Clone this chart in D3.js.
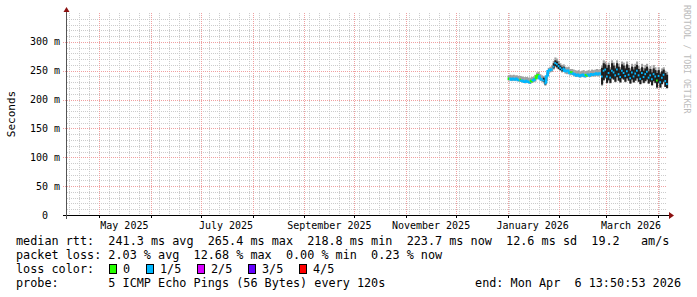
<!DOCTYPE html>
<html>
<head>
<meta charset="utf-8">
<script src="https://cdn.jsdelivr.net/npm/d3@7"></script>
<style>
  html, body { margin: 0; padding: 0; background: #fff; }
  svg text { font-family: "DejaVu Sans Mono", monospace; white-space: pre; }
</style>
</head>
<body>
<svg id="chart" width="697" height="297"></svg>
<script>
// SmokePing style latency graph, 360 days ending Apr 6 2026.

const endTime = new Date(2026, 3, 6, 13, 50, 53);
const startTime = d3.timeDay.offset(endTime, -360);
const days = d3.timeDay.range(new Date(2026, 0, 1), new Date(2026, 3, 7)); // one sample per day

// median rtt per day (ms)
const median = [
  236, 236, 235, 236, 235, 236, 234, 234, 233, 232,
  231, 232, 231, 230, 232, 233, 235, 240, 242, 237,
  235, 233, 228, 240, 249, 251, 252, 257, 263, 261,
  258, 255, 252, 254, 250, 249, 250, 246, 247, 245,
  244, 242, 243, 241, 242, 243, 241, 242, 243, 242,
  244, 243, 244, 245, 244, 245, 240, 250, 252, 240,
  246, 238, 250, 247, 242, 252, 244, 239, 250, 246,
  241, 249, 243, 237, 247, 240, 245, 250, 242, 236,
  246, 239, 244, 248, 238, 242, 235, 244, 240, 233,
  241, 230, 238, 243, 232, 227
];
// grey smoke range (ms)
const smokeLo = [
  233, 233, 232, 233, 232, 233, 231, 231, 230, 229,
  228, 229, 228, 227, 229, 230, 231, 235, 237, 233,
  231, 228, 224, 232, 244, 247, 248, 252, 256, 254,
  252, 250, 247, 248, 245, 244, 245, 242, 243, 241,
  240, 239, 240, 238, 239, 239, 238, 239, 240, 239,
  240, 240, 240, 241, 240, 241, 224, 232, 236, 228,
  232, 228, 236, 234, 230, 238, 232, 229, 236, 234,
  230, 236, 232, 227, 234, 229, 232, 236, 230, 226,
  233, 228, 231, 234, 227, 230, 224, 231, 228, 219,
  228, 220, 226, 230, 222, 219
];
const smokeHi = [
  242, 243, 242, 243, 242, 242, 241, 241, 240, 239,
  239, 239, 238, 238, 239, 240, 243, 247, 248, 244,
  242, 241, 237, 247, 255, 257, 259, 267, 273, 271,
  267, 263, 260, 261, 257, 256, 257, 253, 253, 252,
  251, 250, 251, 249, 250, 251, 249, 250, 251, 250,
  252, 251, 252, 253, 252, 253, 259, 268, 266, 258,
  264, 256, 268, 264, 258, 268, 262, 256, 266, 264,
  258, 266, 260, 254, 262, 256, 262, 266, 258, 254,
  262, 255, 260, 262, 254, 258, 252, 260, 256, 250,
  256, 248, 254, 256, 250, 248
];
// dark (black) band of the median spread (ms), null where absent
const darkLo = [
  null, null, null, null, null, null, null, null, null, null,
  null, null, null, null, null, null, null, null, null, null,
  null, 231, 226, null, null, null, null, 254, 258, 256,
  253, 251, 249, 250, null, null, null, null, null, null,
  null, null, null, null, null, null, null, null, null, null,
  null, null, null, null, null, null, 226, 234, 238, 229,
  234, 229, 237, 235, 231, 239, 233, 230, 237, 235,
  231, 237, 233, 228, 235, 230, 233, 237, 231, 227,
  234, 229, 232, 235, 228, 231, 225, 232, 229, 221,
  229, 221, 227, 231, 222, 220
];
const darkHi = [
  null, null, null, null, null, null, null, null, null, null,
  null, null, null, null, null, null, null, null, null, null,
  null, 238, 236, null, null, null, null, 263, 268, 266,
  262, 259, 256, 257, null, null, null, null, null, null,
  null, null, null, null, null, null, null, null, null, null,
  null, null, null, null, null, null, 255, 263, 261, 255,
  260, 252, 263, 259, 254, 263, 257, 252, 261, 259,
  254, 261, 255, 250, 257, 252, 257, 260, 253, 249,
  256, 250, 254, 257, 249, 253, 247, 254, 251, 246,
  251, 245, 249, 252, 246, 243
];
// loss class per day (index into lossColors)
const loss = [
  0, 1, 1, 1, 1, 1, 1, 0, 1, 1,
  1, 1, 1, 1, 0, 1, 1, 0, 0, 1,
  1, 1, 1, 1, 1, 1, 1, 1, 1, 1,
  1, 1, 1, 1, 1, 1, 1, 1, 0, 1,
  1, 1, 1, 1, 1, 1, 1, 0, 1, 1,
  1, 1, 1, 1, 1, 1, 1, 1, 1, 1,
  1, 1, 1, 1, 1, 1, 1, 1, 1, 1,
  1, 1, 1, 1, 1, 1, 1, 1, 1, 1,
  1, 1, 1, 1, 1, 1, 1, 1, 1, 0,
  1, 1, 1, 1, 1, 1
];

const lossLabels = ["0", "1/5", "2/5", "3/5", "4/5"];
const lossColors = ["#26ff00", "#00b8ff", "#d800ff", "#6400ff", "#ff0000"];
const lossBoxX = [109, 146, 197, 248, 299];
const lossTextX = [123, 160, 211, 262, 313];

const yTicks = [0, 50, 100, 150, 200, 250, 300];
const yTickLabels = ["  0  ", " 50 m", "100 m", "150 m", "200 m", "250 m", "300 m"];
const xLabelMonths = [new Date(2025, 4, 1), new Date(2025, 6, 1), new Date(2025, 8, 1),
                      new Date(2025, 10, 1), new Date(2026, 0, 1), new Date(2026, 2, 1)];
const xLabels = ["May 2025", "July 2025", "September 2025", "November 2025", "January 2026", "March 2026"];

const legendRows = [
  "median rtt:  241.3 ms avg  265.4 ms max  218.8 ms min  223.7 ms now  12.6 ms sd  19.2   am/s",
  "packet loss: 2.03 % avg  12.68 % max  0.00 % min  0.23 % now",
  "loss color:",
  "probe:       5 ICMP Echo Pings (56 Bytes) every 120s"
];
const endLabel = "end: Mon Apr  6 13:50:53 2026";

// --- layout ---
const L = 67, R = 667, T = 13, B = 215;
const svg = d3.select("#chart");
svg.append("rect").attr("width", 697).attr("height", 297).attr("fill", "#fff");

const x = d3.scaleTime().domain([startTime, endTime]).range([L, R]);
const y = d3.scaleLinear().domain([0, 350]).range([B, T]);
const px = (v) => Math.round(v) + 0.5;

// --- grid ---
const grid = svg.append("g");
d3.range(10, 351, 10).filter((v) => v % 50 !== 0).forEach((v) => {
  grid.append("line").attr("x1", L).attr("x2", R).attr("y1", px(y(v))).attr("y2", px(y(v)))
    .attr("stroke", "#cccccc").attr("stroke-dasharray", "1,1");
});
const minorDays = d3.timeDay.every(1).range(new Date(2025, 3, 13), endTime).filter((d, i) => i % 6 === 0);
minorDays.forEach((d) => {
  grid.append("line").attr("x1", px(x(d))).attr("x2", px(x(d))).attr("y1", T).attr("y2", B)
    .attr("stroke", "#cccccc").attr("stroke-dasharray", "1,1");
});
yTicks.filter((v) => v > 0).forEach((v) => {
  grid.append("line").attr("x1", L - 4).attr("x2", R).attr("y1", px(y(v))).attr("y2", px(y(v)))
    .attr("stroke", "#f0a0a0").attr("stroke-dasharray", "1,1");
});
const months = d3.timeMonth.range(d3.timeMonth.ceil(startTime), endTime);
months.forEach((d) => {
  grid.append("line").attr("x1", px(x(d))).attr("x2", px(x(d))).attr("y1", T).attr("y2", B)
    .attr("stroke", "#f0a0a0").attr("stroke-dasharray", "1,1");
});

// --- data ---
const rows = days.map((t, i) => ({
  t, next: d3.timeDay.offset(t, 1), med: median[i], prev: median[Math.max(0, i - 1)],
  sLo: smokeLo[i], sHi: smokeHi[i], dLo: darkLo[i], dHi: darkHi[i], loss: loss[i]
}));
const data = svg.append("g");
data.selectAll("rect.smoke").data(rows).enter().append("rect").attr("class", "smoke")
  .attr("x", (d) => x(d.t)).attr("width", (d) => x(d.next) - x(d.t) + 0.4)
  .attr("y", (d) => y(d.sHi)).attr("height", (d) => y(d.sLo) - y(d.sHi))
  .attr("fill", "#a0a0a0");
data.selectAll("rect.dark").data(rows.filter((d) => d.dLo != null)).enter().append("rect").attr("class", "dark")
  .attr("x", (d) => x(d.t)).attr("width", (d) => x(d.next) - x(d.t) + 0.4)
  .attr("y", (d) => y(d.dHi)).attr("height", (d) => y(d.dLo) - y(d.dHi))
  .attr("fill", "#1e1e1e");
// median: step line where calm, bare horizontal ticks inside the dark band
data.selectAll("path.med").data(rows).enter().append("path").attr("class", "med")
  .attr("d", (d) => d.dLo == null
    ? `M${x(d.t)},${y(d.prev)}V${y(d.med)}H${x(d.next)}`
    : `M${x(d.t)},${y(d.med)}H${x(d.next)}`)
  .attr("fill", "none").attr("stroke-width", (d) => (d.dLo == null ? 2.6 : 2))
  .attr("stroke", (d) => lossColors[d.loss]);

// --- axes ---
const axes = svg.append("g");
months.forEach((d) => {
  axes.append("line").attr("x1", px(x(d))).attr("x2", px(x(d))).attr("y1", B).attr("y2", B + 3)
    .attr("stroke", "#000");
});
axes.append("line").attr("x1", L - 4).attr("x2", R + 2).attr("y1", B + 0.5).attr("y2", B + 0.5)
  .attr("stroke", "#000");
axes.append("line").attr("x1", L - 0.5).attr("x2", L - 0.5).attr("y1", B + 4).attr("y2", T - 3)
  .attr("stroke", "#555");
axes.append("path").attr("d", `M${R + 2},${B - 3}L${R + 7},${B + 0.5}L${R + 2},${B + 4}Z`).attr("fill", "#8b1010");
axes.append("path").attr("d", `M${L - 3.5},${T - 1}L${L - 0.5},${T - 6}L${L + 2.5},${T - 1}Z`).attr("fill", "#8b1010");

yTicks.forEach((v, i) => {
  svg.append("text").attr("x", 30).attr("y", y(v)).attr("dy", "0.36em")
    .attr("font-size", "10px").attr("fill", "#000").text(yTickLabels[i]);
});
xLabelMonths.forEach((d, i) => {
  svg.append("text").attr("x", x(d3.timeDay.offset(d, 15))).attr("y", 229)
    .attr("text-anchor", "middle").attr("font-size", "10px").attr("fill", "#000").text(xLabels[i]);
});

svg.append("text").attr("transform", "translate(15,114) rotate(-90)")
  .attr("text-anchor", "middle").attr("font-size", "11px").attr("fill", "#000").text("Seconds");
svg.append("text").attr("transform", "translate(684,5) rotate(90)")
  .attr("font-size", "8.2px").attr("fill", "#bbbbbb").text("RRDTOOL / TOBI OETIKER");

// --- legend ---
const legendY = [245, 259, 273, 287];
legendRows.forEach((s, i) => {
  svg.append("text").attr("x", 16).attr("y", legendY[i]).attr("font-size", "11.8px")
    .attr("fill", "#000").text(s);
});
svg.append("text").attr("x", 681).attr("y", legendY[3]).attr("text-anchor", "end")
  .attr("font-size", "11.8px").attr("fill", "#000").text(endLabel);
lossLabels.forEach((lab, i) => {
  svg.append("rect").attr("x", lossBoxX[i] + 0.5).attr("y", 264.5).attr("width", 7).attr("height", 9)
    .attr("fill", lossColors[i]).attr("stroke", "#000").attr("stroke-width", 1);
  svg.append("text").attr("x", lossTextX[i]).attr("y", legendY[2]).attr("font-size", "11.8px")
    .attr("fill", "#000").text(lab);
});
</script>
</body>
</html>
